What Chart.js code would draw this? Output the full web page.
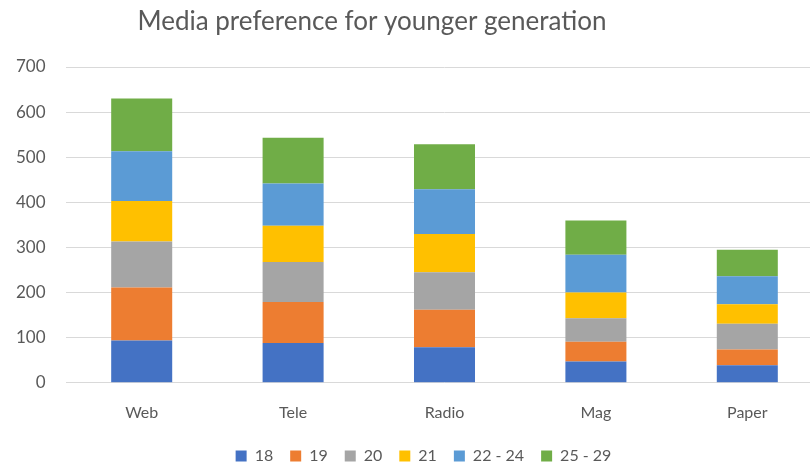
<!DOCTYPE html>
<html>
<head>
<meta charset="utf-8">
<script src="https://cdn.jsdelivr.net/npm/chart.js@4.4.1/dist/chart.umd.min.js"></script>
<style>
  html, body { margin: 0; padding: 0; background: #fff; overflow: hidden; }
  #wrap { width: 846px; height: 465px; }
</style>
</head>
<body>
<div id="wrap"><canvas id="chart" width="846" height="465"></canvas></div>
<script>
// Stacked media preference by age group
const media = ['Web', 'Tele', 'Radio', 'Mag', 'Paper'];
const ageGroups = ['18', '19', '20', '21', '22 - 24', '25 - 29'];
const age18 = [94, 88, 79, 47, 39];
const age19 = [117, 91, 83, 44, 35];
const age20 = [102, 89, 83, 52, 57];
const age21 = [90, 80, 85, 57, 43];
const age22to24 = [110, 94, 99, 84, 62];
const age25to29 = [117, 101, 100, 76, 59];
const yTicks = [0, 100, 200, 300, 400, 500, 600, 700];

const colors = ['#4472C4', '#ED7D31', '#A5A5A5', '#FFC000', '#5B9BD5', '#70AD47'];
const series = [age18, age19, age20, age21, age22to24, age25to29];
const textGrey = '#595959';
const font = 'Lato, "Open Sans", sans-serif';

// title is drawn a bit left of the canvas centre
const titlePlugin = {
    id: 'sideTitle',
    afterDraw(chart) {
        const ctx = chart.ctx;
        ctx.save();
        ctx.font = '26px ' + font;
        ctx.fillStyle = textGrey;
        ctx.textAlign = 'center';
        ctx.textBaseline = 'middle';
        ctx.fillText('Media preference for younger generation', 372, 22);
        ctx.restore();
    }
};

new Chart(document.getElementById('chart'), {
    type: 'bar',
    data: {
        labels: media,
        datasets: series.map((values, i) => ({
            label: ageGroups[i],
            data: values,
            backgroundColor: colors[i],
            borderWidth: 0,
            barPercentage: 0.403,
            categoryPercentage: 1
        }))
    },
    options: {
        responsive: false,
        animation: false,
        // wider left padding centres the legend under the bars
        layout: { padding: { top: 67, left: 24, right: 23, bottom: -9 } },
        plugins: {
            title: { display: false },
            tooltip: { enabled: false },
            legend: {
                position: 'bottom',
                labels: {
                    boxWidth: 11,
                    boxHeight: 11,
                    padding: 17,
                    color: textGrey,
                    font: { family: font, size: 16 }
                }
            }
        },
        scales: {
            x: {
                stacked: true,
                grid: { display: false, drawTicks: false },
                border: { display: false },
                ticks: { color: textGrey, font: { family: font, size: 16 }, padding: 20 },
                // let the legend sit a little closer to the category labels
                afterFit(axis) { axis.height -= 11; }
            },
            y: {
                stacked: true,
                min: yTicks[0],
                max: yTicks[yTicks.length - 1],
                afterBuildTicks(axis) { axis.ticks = yTicks.map(v => ({ value: v })); },
                // mirrored labels are not clipped, so they can hang left of the axis box
                afterFit(axis) { axis.width = 42; },
                grid: { color: '#D9D9D9', lineWidth: 1, drawTicks: false },
                border: { display: false },
                ticks: {
                    color: textGrey,
                    font: { family: font, size: 17 },
                    mirror: true,
                    crossAlign: 'far',
                    padding: -50
                }
            }
        }
    },
    plugins: [titlePlugin]
});
</script>
</body>
</html>
